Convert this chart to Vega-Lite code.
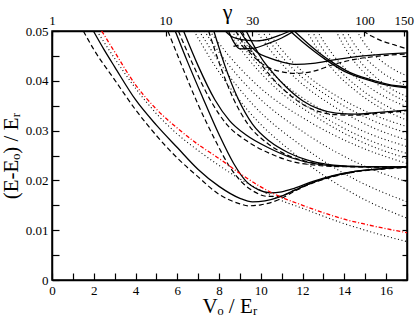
{
  "$schema": "https://vega.github.io/schema/vega-lite/v6.json",
  "width": 355,
  "height": 249,
  "autosize": {"type": "none"},
  "padding": {"left": 52, "top": 31, "right": 8, "bottom": 39},
  "background": "white",
  "config": {
    "view": {"stroke": "#000", "strokeWidth": 1.5},
    "axis": {
      "grid": false, "domainColor": "#000", "domainWidth": 1.5,
      "tickColor": "#000", "tickWidth": 1.2,
      "labelFont": "Liberation Serif", "labelFontSize": 13, "labelColor": "#000",
      "titleFont": "Liberation Serif", "titleFontWeight": "normal", "titleColor": "#000",
      "labelOverlap": false, "labelFlush": false, "labelBound": false
    }
  },
  "data": {"values": [
    {"c":"sA","s":"s","V":1.98,"E":0.05},{"c":"sA","s":"s","V":2.5,"E":0.0462},{"c":"sA","s":"s","V":3,"E":0.0428},{"c":"sA","s":"s","V":4,"E":0.0362},{"c":"sA","s":"s","V":5,"E":0.0311},{"c":"sA","s":"s","V":6,"E":0.0266},{"c":"sA","s":"s","V":7,"E":0.0222},{"c":"sA","s":"s","V":8,"E":0.0188},{"c":"sA","s":"s","V":9,"E":0.0164},{"c":"sA","s":"s","V":9.6,"E":0.0157},{"c":"sA","s":"s","V":10.2,"E":0.0159},{"c":"sA","s":"s","V":10.9,"E":0.0167},{"c":"sA","s":"s","V":11.6,"E":0.018},{"c":"sA","s":"s","V":12.5,"E":0.0196},{"c":"sA","s":"s","V":13.5,"E":0.0209},{"c":"sA","s":"s","V":14.5,"E":0.0218},{"c":"sA","s":"s","V":15.7,"E":0.0223},{"c":"sA","s":"s","V":17,"E":0.0227},
    {"c":"sB1","s":"s","V":5.9,"E":0.05},{"c":"sB1","s":"s","V":6.5,"E":0.0437},{"c":"sB1","s":"s","V":7.2,"E":0.0368},{"c":"sB1","s":"s","V":8,"E":0.0292},{"c":"sB1","s":"s","V":8.7,"E":0.0234},{"c":"sB1","s":"s","V":9.3,"E":0.0198},{"c":"sB1","s":"s","V":9.9,"E":0.0181},{"c":"sB1","s":"s","V":10.45,"E":0.0175},{"c":"sB1","s":"s","V":11,"E":0.0177},{"c":"sB1","s":"s","V":11.6,"E":0.0184},{"c":"sB1","s":"s","V":12.5,"E":0.0198},{"c":"sB1","s":"s","V":13.5,"E":0.021},{"c":"sB1","s":"s","V":14.5,"E":0.0218},{"c":"sB1","s":"s","V":15.7,"E":0.0223},{"c":"sB1","s":"s","V":17,"E":0.0228},
    {"c":"sB2","s":"s","V":6.3,"E":0.05},{"c":"sB2","s":"s","V":7,"E":0.043},{"c":"sB2","s":"s","V":7.8,"E":0.0362},{"c":"sB2","s":"s","V":8.5,"E":0.032},{"c":"sB2","s":"s","V":9.3,"E":0.0291},{"c":"sB2","s":"s","V":10.44,"E":0.0264},{"c":"sB2","s":"s","V":11.5,"E":0.0245},{"c":"sB2","s":"s","V":12.5,"E":0.0234},{"c":"sB2","s":"s","V":13.5,"E":0.0229},{"c":"sB2","s":"s","V":15,"E":0.0227},{"c":"sB2","s":"s","V":17,"E":0.0227},
    {"c":"sB3","s":"s","V":7.75,"E":0.05},{"c":"sB3","s":"s","V":8.3,"E":0.0428},{"c":"sB3","s":"s","V":8.9,"E":0.0365},{"c":"sB3","s":"s","V":9.6,"E":0.0313},{"c":"sB3","s":"s","V":10.44,"E":0.0278},{"c":"sB3","s":"s","V":11.3,"E":0.0256},{"c":"sB3","s":"s","V":12.2,"E":0.0241},{"c":"sB3","s":"s","V":13.2,"E":0.0232},{"c":"sB3","s":"s","V":14.5,"E":0.0228},{"c":"sB3","s":"s","V":17,"E":0.0227},
    {"c":"sC1","s":"s","V":9.3,"E":0.05},{"c":"sC1","s":"s","V":9.7,"E":0.0468},{"c":"sC1","s":"s","V":10.1,"E":0.0441},{"c":"sC1","s":"s","V":10.6,"E":0.0415},{"c":"sC1","s":"s","V":11.2,"E":0.0388},{"c":"sC1","s":"s","V":12,"E":0.036},{"c":"sC1","s":"s","V":12.8,"E":0.0343},{"c":"sC1","s":"s","V":13.6,"E":0.0335},{"c":"sC1","s":"s","V":14.5,"E":0.0333},{"c":"sC1","s":"s","V":15.5,"E":0.0336},{"c":"sC1","s":"s","V":17,"E":0.0341},
    {"c":"sU1","s":"s","V":8.3,"E":0.05},{"c":"sU1","s":"s","V":8.6,"E":0.0489},{"c":"sU1","s":"s","V":9.2,"E":0.0482},{"c":"sU1","s":"s","V":9.8,"E":0.048},{"c":"sU1","s":"s","V":10.4,"E":0.0484},{"c":"sU1","s":"s","V":11,"E":0.0493},{"c":"sU1","s":"s","V":11.4,"E":0.05},
    {"c":"sU2","s":"s","V":8.45,"E":0.05},{"c":"sU2","s":"s","V":8.7,"E":0.0478},{"c":"sU2","s":"s","V":9,"E":0.0464},{"c":"sU2","s":"s","V":9.6,"E":0.0465},{"c":"sU2","s":"s","V":10.3,"E":0.0474},{"c":"sU2","s":"s","V":11,"E":0.0486},{"c":"sU2","s":"s","V":11.6,"E":0.05},
    {"c":"sU3","s":"s","V":9,"E":0.05},{"c":"sU3","s":"s","V":9.4,"E":0.0475},{"c":"sU3","s":"s","V":9.8,"E":0.0458},{"c":"sU3","s":"s","V":10.4,"E":0.0446},{"c":"sU3","s":"s","V":11,"E":0.0438},{"c":"sU3","s":"s","V":11.7,"E":0.0433},{"c":"sU3","s":"s","V":12.5,"E":0.0435},{"c":"sU3","s":"s","V":13.5,"E":0.0442},{"c":"sU3","s":"s","V":14.5,"E":0.0448},{"c":"sU3","s":"s","V":15.5,"E":0.0452},{"c":"sU3","s":"s","V":17,"E":0.0456},
    {"c":"sC2a","s":"s","V":11.4,"E":0.05},{"c":"sC2a","s":"s","V":12,"E":0.0478},{"c":"sC2a","s":"s","V":12.6,"E":0.0458},{"c":"sC2a","s":"s","V":13.16,"E":0.0441},{"c":"sC2a","s":"s","V":14,"E":0.0419},{"c":"sC2a","s":"s","V":15.2,"E":0.0401},{"c":"sC2a","s":"s","V":16,"E":0.0392},{"c":"sC2a","s":"s","V":17,"E":0.0386},
    {"c":"sC2b","s":"s","V":11.6,"E":0.05},{"c":"sC2b","s":"s","V":12.2,"E":0.0477},{"c":"sC2b","s":"s","V":12.8,"E":0.0456},{"c":"sC2b","s":"s","V":13.4,"E":0.0438},{"c":"sC2b","s":"s","V":14.2,"E":0.0418},{"c":"sC2b","s":"s","V":15.3,"E":0.0402},{"c":"sC2b","s":"s","V":16.1,"E":0.0393},{"c":"sC2b","s":"s","V":17,"E":0.0388},
    {"c":"dA","s":"d","V":1.5,"E":0.05},{"c":"dA","s":"d","V":2,"E":0.0463},{"c":"dA","s":"d","V":3,"E":0.0402},{"c":"dA","s":"d","V":4,"E":0.0342},{"c":"dA","s":"d","V":5,"E":0.029},{"c":"dA","s":"d","V":6,"E":0.0245},{"c":"dA","s":"d","V":7,"E":0.0207},{"c":"dA","s":"d","V":8,"E":0.0172},{"c":"dA","s":"d","V":9,"E":0.0153},{"c":"dA","s":"d","V":9.4,"E":0.0149},{"c":"dA","s":"d","V":10,"E":0.0151},{"c":"dA","s":"d","V":10.9,"E":0.0162},{"c":"dA","s":"d","V":11.6,"E":0.0178},{"c":"dA","s":"d","V":12.5,"E":0.0195},{"c":"dA","s":"d","V":13.5,"E":0.0208},{"c":"dA","s":"d","V":14.5,"E":0.0217},{"c":"dA","s":"d","V":15.7,"E":0.0222},{"c":"dA","s":"d","V":17,"E":0.0226},
    {"c":"dB1","s":"d","V":5.55,"E":0.05},{"c":"dB1","s":"d","V":6.2,"E":0.0432},{"c":"dB1","s":"d","V":7,"E":0.0352},{"c":"dB1","s":"d","V":7.8,"E":0.0282},{"c":"dB1","s":"d","V":8.5,"E":0.0228},{"c":"dB1","s":"d","V":9.1,"E":0.0196},{"c":"dB1","s":"d","V":9.7,"E":0.0177},{"c":"dB1","s":"d","V":10.3,"E":0.0168},{"c":"dB1","s":"d","V":10.9,"E":0.0168},{"c":"dB1","s":"d","V":11.6,"E":0.018},{"c":"dB1","s":"d","V":12.5,"E":0.0196},{"c":"dB1","s":"d","V":13.5,"E":0.0209},{"c":"dB1","s":"d","V":14.5,"E":0.0217},
    {"c":"dB2","s":"d","V":6.05,"E":0.05},{"c":"dB2","s":"d","V":6.8,"E":0.0428},{"c":"dB2","s":"d","V":7.6,"E":0.036},{"c":"dB2","s":"d","V":8.4,"E":0.0311},{"c":"dB2","s":"d","V":9.3,"E":0.028},{"c":"dB2","s":"d","V":10.44,"E":0.0254},{"c":"dB2","s":"d","V":11.5,"E":0.0238},{"c":"dB2","s":"d","V":12.5,"E":0.0231},{"c":"dB2","s":"d","V":13.5,"E":0.0228},{"c":"dB2","s":"d","V":15,"E":0.0227},{"c":"dB2","s":"d","V":17,"E":0.0226},
    {"c":"dB3","s":"d","V":7.5,"E":0.05},{"c":"dB3","s":"d","V":8.1,"E":0.0425},{"c":"dB3","s":"d","V":8.7,"E":0.0363},{"c":"dB3","s":"d","V":9.4,"E":0.0312},{"c":"dB3","s":"d","V":10.3,"E":0.0275},{"c":"dB3","s":"d","V":11.2,"E":0.0252},{"c":"dB3","s":"d","V":12.2,"E":0.0238},{"c":"dB3","s":"d","V":13.2,"E":0.0231},{"c":"dB3","s":"d","V":14.5,"E":0.0228},{"c":"dB3","s":"d","V":17,"E":0.0227},
    {"c":"dC1","s":"d","V":9.1,"E":0.05},{"c":"dC1","s":"d","V":9.5,"E":0.0465},{"c":"dC1","s":"d","V":9.95,"E":0.0437},{"c":"dC1","s":"d","V":10.5,"E":0.0408},{"c":"dC1","s":"d","V":11.1,"E":0.0382},{"c":"dC1","s":"d","V":12,"E":0.0353},{"c":"dC1","s":"d","V":12.8,"E":0.0338},{"c":"dC1","s":"d","V":13.6,"E":0.0332},{"c":"dC1","s":"d","V":14.5,"E":0.0331},{"c":"dC1","s":"d","V":15.5,"E":0.0334},{"c":"dC1","s":"d","V":17,"E":0.034},
    {"c":"dU3","s":"d","V":8.8,"E":0.05},{"c":"dU3","s":"d","V":9.3,"E":0.0466},{"c":"dU3","s":"d","V":9.8,"E":0.0443},{"c":"dU3","s":"d","V":10.3,"E":0.0428},{"c":"dU3","s":"d","V":10.9,"E":0.0419},{"c":"dU3","s":"d","V":11.7,"E":0.0415},{"c":"dU3","s":"d","V":12.5,"E":0.0419},{"c":"dU3","s":"d","V":13.5,"E":0.0433},{"c":"dU3","s":"d","V":14.5,"E":0.0443},{"c":"dU3","s":"d","V":15.5,"E":0.0449},{"c":"dU3","s":"d","V":17,"E":0.0454},
    {"c":"dL","s":"d","V":14.9,"E":0.05},{"c":"dL","s":"d","V":15.3,"E":0.049},{"c":"dL","s":"d","V":15.8,"E":0.048},{"c":"dL","s":"d","V":16.4,"E":0.0472},{"c":"dL","s":"d","V":17,"E":0.0464},
    {"c":"dW","s":"d","V":8.69,"E":0.0469},{"c":"dW","s":"d","V":9,"E":0.0472},{"c":"dW","s":"d","V":9.3,"E":0.0463},{"c":"dW","s":"d","V":9.65,"E":0.0459},
    {"c":"r","s":"r","V":2.38,"E":0.05},{"c":"r","s":"r","V":3,"E":0.0458},{"c":"r","s":"r","V":4,"E":0.0392},{"c":"r","s":"r","V":5,"E":0.0343},{"c":"r","s":"r","V":6,"E":0.0305},{"c":"r","s":"r","V":7,"E":0.0272},{"c":"r","s":"r","V":8,"E":0.0244},{"c":"r","s":"r","V":9,"E":0.0214},{"c":"r","s":"r","V":10,"E":0.0187},{"c":"r","s":"r","V":11,"E":0.0166},{"c":"r","s":"r","V":12,"E":0.015},{"c":"r","s":"r","V":13,"E":0.0135},{"c":"r","s":"r","V":14,"E":0.0122},{"c":"r","s":"r","V":15,"E":0.0112},{"c":"r","s":"r","V":16,"E":0.0103},{"c":"r","s":"r","V":17,"E":0.0095},
    {"c":"p0","s":"p","V":2.15,"E":0.05},{"c":"p0","s":"p","V":3,"E":0.0445},{"c":"p0","s":"p","V":4,"E":0.0385},{"c":"p0","s":"p","V":5,"E":0.0334},{"c":"p0","s":"p","V":6,"E":0.0293},{"c":"p0","s":"p","V":7,"E":0.026},{"c":"p0","s":"p","V":8,"E":0.023},{"c":"p0","s":"p","V":9,"E":0.0203},{"c":"p0","s":"p","V":10,"E":0.018},{"c":"p0","s":"p","V":10.9,"E":0.0161},{"c":"p0","s":"p","V":12,"E":0.0144},{"c":"p0","s":"p","V":13,"E":0.0128},{"c":"p0","s":"p","V":14,"E":0.0113},{"c":"p0","s":"p","V":15,"E":0.01},{"c":"p0","s":"p","V":16,"E":0.0088},{"c":"p0","s":"p","V":17,"E":0.0077},
    {"c":"p1","s":"p","V":6.8,"E":0.05},{"c":"p1","s":"p","V":7.82,"E":0.0429},{"c":"p1","s":"p","V":9.35,"E":0.0342},{"c":"p1","s":"p","V":11.9,"E":0.0244},{"c":"p1","s":"p","V":14.45,"E":0.0173},{"c":"p1","s":"p","V":17,"E":0.0124},
    {"c":"p2","s":"p","V":7.05,"E":0.05},{"c":"p2","s":"p","V":8.05,"E":0.0435},{"c":"p2","s":"p","V":9.54,"E":0.0356},{"c":"p2","s":"p","V":12.03,"E":0.0267},{"c":"p2","s":"p","V":14.51,"E":0.0202},{"c":"p2","s":"p","V":17,"E":0.0157},
    {"c":"p3","s":"p","V":7.3,"E":0.05},{"c":"p3","s":"p","V":8.27,"E":0.0442},{"c":"p3","s":"p","V":9.73,"E":0.0373},{"c":"p3","s":"p","V":12.15,"E":0.0294},{"c":"p3","s":"p","V":14.58,"E":0.0236},{"c":"p3","s":"p","V":17,"E":0.0197},
    {"c":"p4","s":"p","V":7.55,"E":0.05},{"c":"p4","s":"p","V":8.5,"E":0.0449},{"c":"p4","s":"p","V":9.91,"E":0.0388},{"c":"p4","s":"p","V":12.28,"E":0.0319},{"c":"p4","s":"p","V":14.64,"E":0.0269},{"c":"p4","s":"p","V":17,"E":0.0234},
    {"c":"p5","s":"p","V":8.4,"E":0.05},{"c":"p5","s":"p","V":9.26,"E":0.0451},{"c":"p5","s":"p","V":10.55,"E":0.0392},{"c":"p5","s":"p","V":12.7,"E":0.0326},{"c":"p5","s":"p","V":14.85,"E":0.0277},{"c":"p5","s":"p","V":17,"E":0.0244},
    {"c":"p6","s":"p","V":8.6,"E":0.05},{"c":"p6","s":"p","V":9.44,"E":0.0453},{"c":"p6","s":"p","V":10.7,"E":0.0397},{"c":"p6","s":"p","V":12.8,"E":0.0333},{"c":"p6","s":"p","V":14.9,"E":0.0286},{"c":"p6","s":"p","V":17,"E":0.0254},
    {"c":"p7","s":"p","V":8.8,"E":0.05},{"c":"p7","s":"p","V":9.62,"E":0.0456},{"c":"p7","s":"p","V":10.85,"E":0.0403},{"c":"p7","s":"p","V":12.9,"E":0.0342},{"c":"p7","s":"p","V":14.95,"E":0.0298},{"c":"p7","s":"p","V":17,"E":0.0268},
    {"c":"p8","s":"p","V":9.8,"E":0.05},{"c":"p8","s":"p","V":10.52,"E":0.0458},{"c":"p8","s":"p","V":11.6,"E":0.0408},{"c":"p8","s":"p","V":13.4,"E":0.0351},{"c":"p8","s":"p","V":15.2,"E":0.0309},{"c":"p8","s":"p","V":17,"E":0.0281},
    {"c":"p9","s":"p","V":10.05,"E":0.05},{"c":"p9","s":"p","V":10.75,"E":0.0461},{"c":"p9","s":"p","V":11.79,"E":0.0414},{"c":"p9","s":"p","V":13.53,"E":0.0361},{"c":"p9","s":"p","V":15.26,"E":0.0322},{"c":"p9","s":"p","V":17,"E":0.0295},
    {"c":"p10","s":"p","V":10.3,"E":0.05},{"c":"p10","s":"p","V":10.97,"E":0.0464},{"c":"p10","s":"p","V":11.98,"E":0.0419},{"c":"p10","s":"p","V":13.65,"E":0.0369},{"c":"p10","s":"p","V":15.33,"E":0.0333},{"c":"p10","s":"p","V":17,"E":0.0308},
    {"c":"p11","s":"p","V":12.2,"E":0.05},{"c":"p11","s":"p","V":12.68,"E":0.0466},{"c":"p11","s":"p","V":13.4,"E":0.0425},{"c":"p11","s":"p","V":14.6,"E":0.0378},{"c":"p11","s":"p","V":15.8,"E":0.0344},{"c":"p11","s":"p","V":17,"E":0.0321},
    {"c":"p12","s":"p","V":12.45,"E":0.05},{"c":"p12","s":"p","V":12.9,"E":0.0468},{"c":"p12","s":"p","V":13.59,"E":0.0429},{"c":"p12","s":"p","V":14.73,"E":0.0385},{"c":"p12","s":"p","V":15.86,"E":0.0353},{"c":"p12","s":"p","V":17,"E":0.0331},
    {"c":"p13","s":"p","V":12.7,"E":0.05},{"c":"p13","s":"p","V":13.13,"E":0.0471},{"c":"p13","s":"p","V":13.78,"E":0.0436},{"c":"p13","s":"p","V":14.85,"E":0.0397},{"c":"p13","s":"p","V":15.93,"E":0.0368},{"c":"p13","s":"p","V":17,"E":0.0348},
    {"c":"p14","s":"p","V":13.6,"E":0.05},{"c":"p14","s":"p","V":13.94,"E":0.0473},{"c":"p14","s":"p","V":14.45,"E":0.044},{"c":"p14","s":"p","V":15.3,"E":0.0403},{"c":"p14","s":"p","V":16.15,"E":0.0376},{"c":"p14","s":"p","V":17,"E":0.0358},
    {"c":"p15","s":"p","V":13.85,"E":0.05},{"c":"p15","s":"p","V":14.17,"E":0.0475},{"c":"p15","s":"p","V":14.64,"E":0.0445},{"c":"p15","s":"p","V":15.43,"E":0.041},{"c":"p15","s":"p","V":16.21,"E":0.0385},{"c":"p15","s":"p","V":17,"E":0.0368},
    {"c":"p16","s":"p","V":14.1,"E":0.05},{"c":"p16","s":"p","V":14.39,"E":0.0479},{"c":"p16","s":"p","V":14.83,"E":0.0454},{"c":"p16","s":"p","V":15.55,"E":0.0425},{"c":"p16","s":"p","V":16.28,"E":0.0404},{"c":"p16","s":"p","V":17,"E":0.039},
    {"c":"p17","s":"p","V":14.6,"E":0.05},{"c":"p17","s":"p","V":14.84,"E":0.0483},{"c":"p17","s":"p","V":15.2,"E":0.0462},{"c":"p17","s":"p","V":15.8,"E":0.0439},{"c":"p17","s":"p","V":16.4,"E":0.0422},{"c":"p17","s":"p","V":17,"E":0.041}
  ]},
  "resolve": {"axis": {"x": "independent", "y": "independent"}},
  "layer": [
    {
      "transform": [{"filter": "datum.s == 'p'"}],
      "mark": {"type": "line", "color": "#000", "strokeWidth": 1.1, "strokeDash": [1, 2.6], "interpolate": "monotone", "clip": true},
      "encoding": {
        "x": {"field": "V", "type": "quantitative", "scale": {"domain": [0, 17], "nice": false, "zero": false}, "axis": null},
        "y": {"field": "E", "type": "quantitative", "scale": {"domain": [0, 0.05], "nice": false}, "axis": null},
        "detail": {"field": "c"}
      }
    },
    {
      "transform": [{"filter": "datum.s == 'd'"}],
      "mark": {"type": "line", "color": "#000", "strokeWidth": 1.2, "strokeDash": [5, 3], "interpolate": "monotone", "clip": true},
      "encoding": {
        "x": {"field": "V", "type": "quantitative", "scale": {"domain": [0, 17], "nice": false, "zero": false},
          "axis": {"orient": "top", "values": [0, 5.44, 9.59, 14.96, 16.85], "tickSize": -5, "labelPadding": 9,
            "labelExpr": "datum.value == 0 ? '1' : datum.value == 5.44 ? '10' : datum.value == 9.59 ? '30' : datum.value == 14.96 ? '100' : '150'",
            "title": "γ", "titleFontSize": 22, "titleBaseline": "alphabetic", "titleY": -13, "titleX": 175}},
        "y": {"field": "E", "type": "quantitative", "scale": {"domain": [0, 0.05], "nice": false},
          "axis": {"orient": "right", "values": [0, 0.005, 0.01, 0.015, 0.02, 0.025, 0.03, 0.035, 0.04, 0.045, 0.05], "labels": false, "tickSize": -5, "title": null}},
        "detail": {"field": "c"}
      }
    },
    {
      "transform": [{"filter": "datum.s == 's'"}],
      "mark": {"type": "line", "color": "#000", "strokeWidth": 1.3, "interpolate": "monotone", "clip": true},
      "encoding": {
        "x": {"field": "V", "type": "quantitative", "scale": {"domain": [0, 17], "nice": false, "zero": false},
          "axis": {"orient": "bottom", "values": [0,1,2,3,4,5,6,7,8,9,10,11,12,13,14,15,16,17], "tickSize": -7, "labelPadding": 11,
            "labelExpr": "datum.value % 2 == 0 ? datum.label : ''",
            "title": "Vₒ / Eᵣ", "titleFontSize": 21, "titleBaseline": "alphabetic", "titleY": 32}},
        "y": {"field": "E", "type": "quantitative", "scale": {"domain": [0, 0.05], "nice": false},
          "axis": {"orient": "left", "values": [0, 0.005, 0.01, 0.015, 0.02, 0.025, 0.03, 0.035, 0.04, 0.045, 0.05], "tickSize": -7, "labelPadding": 11,
            "labelExpr": "round(datum.value * 1000) % 10 == 0 ? (datum.value == 0 ? '0' : format(datum.value, '.2f')) : ''",
            "title": "(E-Eₒ) / Eᵣ", "titleFontSize": 21, "titleBaseline": "alphabetic", "titleAngle": -90, "titleX": -35, "titleY": 124.5, "titleAlign": "center"}},
        "detail": {"field": "c"}
      }
    },
    {
      "transform": [{"filter": "datum.s == 'r'"}],
      "mark": {"type": "line", "color": "#ff0000", "strokeWidth": 1.3, "strokeDash": [4, 2, 1, 2], "interpolate": "monotone", "clip": true},
      "encoding": {
        "x": {"field": "V", "type": "quantitative", "scale": {"domain": [0, 17], "nice": false, "zero": false}, "axis": null},
        "y": {"field": "E", "type": "quantitative", "scale": {"domain": [0, 0.05], "nice": false}, "axis": null},
        "detail": {"field": "c"}
      }
    }
  ]
}
